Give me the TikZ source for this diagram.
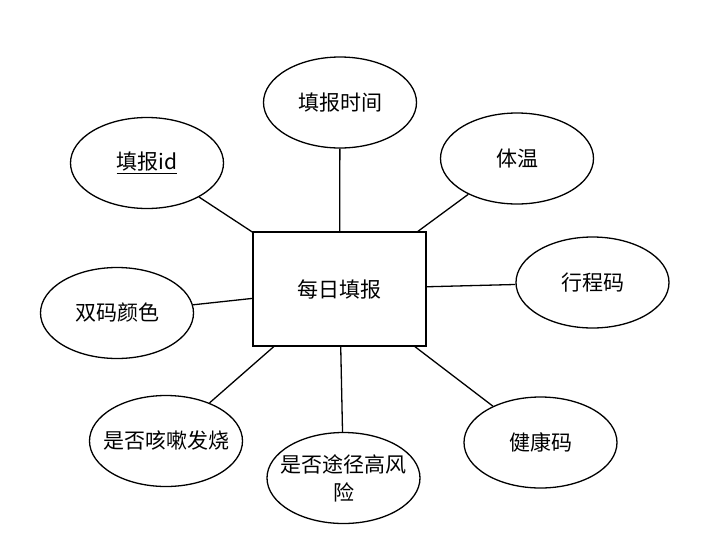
\documentclass[tikz,border=0pt]{standalone}
\usepackage{fontspec}
\setmainfont{Noto Sans CJK SC}
\usepackage{tikz}
\usetikzlibrary{shapes.geometric}

\begin{document}
\begin{tikzpicture}[x=1pt,y=-1pt,line width=1.3pt,
  attr/.style={draw,ellipse,inner sep=0pt,minimum width=153pt,minimum height=91pt,align=center,font=\fontsize{21}{28}\selectfont},
  longattr/.style={attr,inner xsep=-12pt},
  entity/.style={draw,rectangle,inner sep=0pt,minimum width=173pt,minimum height=114pt,font=\fontsize{21}{28}\selectfont}]
\useasboundingbox (0,0) rectangle (707,555);
\node[entity] (daily) at (339.5,289) {每日填报};
\node[attr] (fid) at (147,163) {\underline{填报id}};
\node[attr] (ftime) at (340,102.5) {填报时间};
\node[attr] (temp) at (517,158.5) {体温};
\node[attr] (trip) at (592.5,282.5) {行程码};
\node[attr] (dual) at (117,313) {双码颜色};
\node[longattr] (cough) at (166,441) {是否咳嗽发烧};
\node[longattr] (risk) at (343.5,478) {是否途径高风\\险};
\node[attr] (health) at (540.5,442.5) {健康码};
\foreach \a in {fid,ftime,temp,trip,dual,cough,risk,health}
  \draw (daily) -- (\a);
\end{tikzpicture}
\end{document}
